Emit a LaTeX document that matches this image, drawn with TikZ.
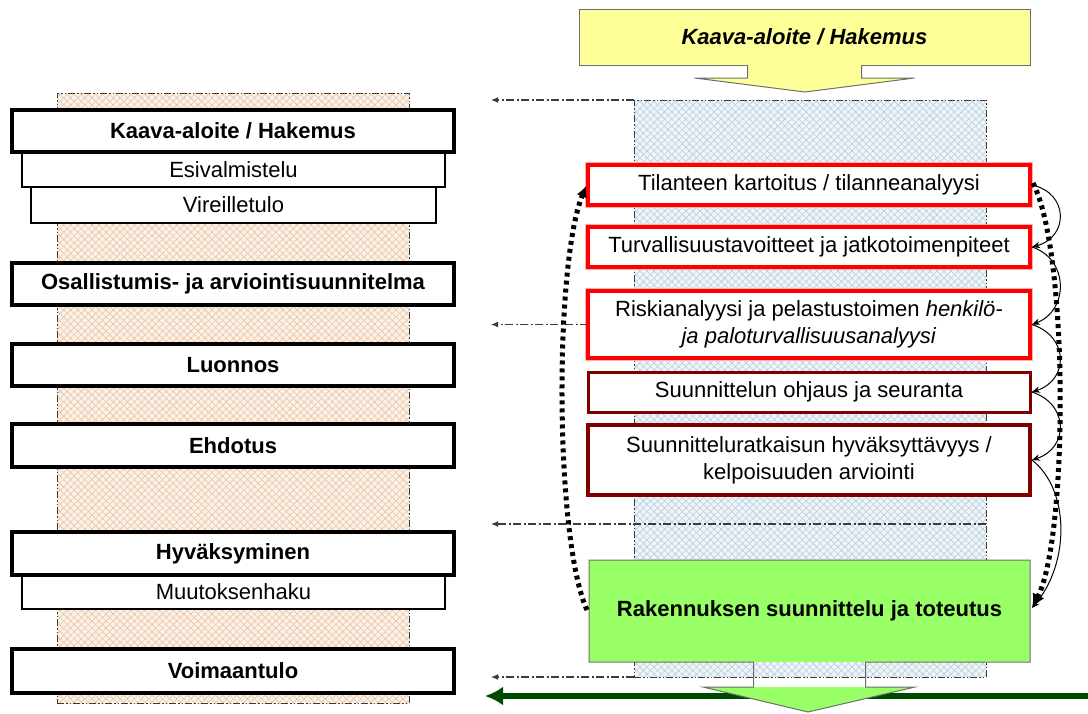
\documentclass[tikz,border=0pt]{standalone}
\usepackage{fontspec}
\setmainfont{Liberation Sans}
\usetikzlibrary{arrows.meta,patterns.meta,calc}

\definecolor{peachbg}{HTML}{FBF1E8}
\definecolor{peachln}{HTML}{E8C5A4}
\definecolor{bluebg}{HTML}{EFF4F8}
\definecolor{blueln}{HTML}{B8CEDC}
\definecolor{callyellow}{HTML}{FFFF99}
\definecolor{callgreen}{HTML}{99FF66}
\definecolor{darkgreen}{HTML}{004A00}
\definecolor{maroonedge}{HTML}{800000}
\definecolor{edgegray}{HTML}{6E6E6E}
\definecolor{ddgray}{HTML}{3C3C3C}

\tikzset{
  txt/.style={font=\fontsize{22}{27}\selectfont},
  band/.style={draw=ddgray, line width=0.8pt,
    dash pattern=on 7pt off 2pt on 1.5pt off 2pt on 1.5pt off 2pt},
  peachband/.style={band, preaction={fill=peachbg},
    preaction={pattern={Lines[angle=45,distance=5pt,line width=0.6pt]}, pattern color=peachln},
    preaction={pattern={Lines[angle=-45,distance=5pt,line width=0.6pt]}, pattern color=peachln}},
  blueband/.style={band, preaction={fill=bluebg},
    preaction={pattern={Lines[angle=45,distance=5pt,line width=0.6pt]}, pattern color=blueln},
    preaction={pattern={Lines[angle=-45,distance=5pt,line width=0.6pt]}, pattern color=blueln}},
  mainbox/.style={draw=black, line width=4pt, fill=white, minimum width=442pt,
    minimum height=42pt, font=\fontsize{22}{27}\selectfont\bfseries},
  subbox/.style={draw=black, line width=2.5pt, fill=white, txt},
  redbox/.style={draw=red, line width=3.5pt, fill=white, preaction={draw=red!30, line width=6.5pt},
    minimum width=442pt, align=center, txt},
  darkbox/.style={draw=maroonedge, line width=3pt, fill=white, minimum width=442pt, align=center, txt},
  calloutedge/.style={draw=edgegray, line width=1pt, line join=miter},
  ddconn/.style={draw=ddgray, line width=1.2pt,
    dash pattern=on 8pt off 2.5pt on 2pt off 2.5pt, -{Latex[length=7pt,width=6pt]}},
  arcconn/.style={draw=black, line width=1pt, -{Stealth[length=8pt,width=6.5pt]}},
  dotconn/.style={draw=black, line width=5pt, dash pattern=on 4pt off 4pt},
}

\begin{document}
\begin{tikzpicture}[x=1pt, y=-1pt, every node/.style={inner sep=0pt, outer sep=0pt}]
\useasboundingbox (0,0) rectangle (1088,713);

% hatched phase bands
\node[peachband, minimum width=352pt, minimum height=610pt] (bandL) at (233,398) {};
\node[blueband, minimum width=352pt, minimum height=577pt] (bandR) at (810,388.5) {};

% free ends of the dash-dot pointers
\coordinate (tipA) at (491,100);
\coordinate (tipC) at (491,524);

% long dark green arrow along the bottom
\coordinate (gR) at (1088,696);
\coordinate (gL) at (485,696);
\draw[darkgreen, line width=6pt, -{Latex[length=18pt,width=19pt]}] (gR) -- (gL);

% left column: planning stages
\node[subbox, minimum width=405pt, minimum height=36pt] (vir) at (233.5,205) {Vireilletulo};
\node[subbox, minimum width=423pt, minimum height=35pt] (esi) at (233.5,169.5) {Esivalmistelu};
\node[mainbox] (kaava) at (233,131) {Kaava-aloite / Hakemus};
\node[mainbox] (osa) at (233,284) {Osallistumis- ja arviointisuunnitelma};
\node[mainbox] (luo) at (233,365) {Luonnos};
\node[mainbox, minimum height=43pt] (ehd) at (233,445.5) {Ehdotus};
\node[subbox, minimum width=423pt, minimum height=34pt] (muu) at (233.5,592) {Muutoksenhaku};
\node[mainbox, minimum height=43pt] (hyv) at (233,553.5) {Hyväksyminen};
\node[mainbox, minimum height=44pt] (voi) at (233,671) {Voimaantulo};

% right column: safety steps
\node[redbox, minimum height=40pt] (b1) at (809,185) {Tilanteen kartoitus / tilanneanalyysi};
\node[redbox, minimum height=40pt] (b2) at (809,247) {Turvallisuustavoitteet ja jatkotoimenpiteet};
\node[redbox, minimum height=67pt] (b3) at (809,324.5)
  {Riskianalyysi ja pelastustoimen \textit{henkilö-}\\\textit{ja paloturvallisuusanalyysi}};
\node[darkbox, minimum height=40pt] (b4) at (809,392) {Suunnittelun ohjaus ja seuranta};
\node[darkbox, line width=4.5pt, minimum height=70pt] (b5) at (809,460)
  {Suunnitteluratkaisun hyväksyttävyys /\\kelpoisuuden arviointi};

% dash-dot pointers towards the planning stages
\draw[ddconn] (bandR.north west) -- (tipA);
\draw[ddconn] (b3.west) -- (b3.west -| tipA);
\draw[ddconn] (tipC -| bandR.east) -- (tipC);
\draw[ddconn] (bandR.south west) -- (bandR.south west -| tipA);

% yellow start callout
\node[fill=callyellow, draw=edgegray, line width=1pt, minimum width=451pt, minimum height=56pt,
  font=\fontsize{22}{27}\selectfont\bfseries\itshape] (hak) at (804.5,37) {Kaava-aloite / Hakemus};
\fill[callyellow] ($(hak.south)+(-57,-1.5)$) -- ($(hak.south)+(-57,13)$) -- ($(hak.south)+(-110,13)$)
  -- ($(hak.south)+(0.5,27)$) -- ($(hak.south)+(110,13)$) -- ($(hak.south)+(57,13)$)
  -- ($(hak.south)+(57,-1.5)$) -- cycle;
\draw[calloutedge] ($(hak.south)+(-57,0)$) -- ($(hak.south)+(-57,13)$) -- ($(hak.south)+(-110,13)$)
  -- ($(hak.south)+(0.5,27)$) -- ($(hak.south)+(110,13)$) -- ($(hak.south)+(57,13)$)
  -- ($(hak.south)+(57,0)$);

% green building callout
\node[fill=callgreen, minimum width=441pt, minimum height=102pt,
  font=\fontsize{22}{27}\selectfont\bfseries] (rak) at (809.5,611) {Rakennuksen suunnittelu ja toteutus};
\fill[callgreen] ($(rak.south)+(-106.5,25)$) -- ($(rak.south)+(105.5,25)$) -- ($(rak.south)+(-1.5,50)$) -- cycle;
\draw[calloutedge] (rak.south west) -- (rak.north west) -- (rak.north east) -- (rak.south east)
  -- ($(rak.south)+(56,0)$) -- ($(rak.south)+(56,25)$) -- ($(rak.south)+(105.5,25)$)
  -- ($(rak.south)+(-1.5,50)$) -- ($(rak.south)+(-106.5,25)$) -- ($(rak.south)+(-56,25)$)
  -- ($(rak.south)+(-56,0)$) -- cycle;

% step-to-step arcs
\draw[arcconn] ($(b1.east)+(2,0)$) .. controls +(37,8) and +(37,-10) .. ($(b2.east)+(2,0)$);
\draw[arcconn] ($(b2.east)+(2,0)$) .. controls +(37,12) and +(37,-14) .. ($(b3.east)+(2,0)$);
\draw[arcconn] ($(b3.east)+(2,0)$) .. controls +(37,12) and +(37,-12) .. ($(b4.east)+(2,0)$);
\draw[arcconn] ($(b4.east)+(2,0)$) .. controls +(37,12) and +(37,-12) .. ($(b5.east)+(2,0)$);
\draw[arcconn] ($(b5.east)+(2,0)$) .. controls +(38,30) and +(38,-45) .. ($(rak.east)+(2,-3)$);

% feedback loops (dotted)
\draw[dotconn, -{Latex[length=14pt,width=13pt]}] ($(b1.east)+(3,-2)$)
  .. controls +(36,70) and +(36,-70) .. ($(rak.east)+(2,-3)$);
\draw[dotconn, -{Latex[length=11pt,width=11pt]}] ($(rak.west)+(-2,-1)$)
  .. controls +(-32,-70) and +(-32,80) .. ($(b1.west)+(-2,1)$);
\end{tikzpicture}
\end{document}
